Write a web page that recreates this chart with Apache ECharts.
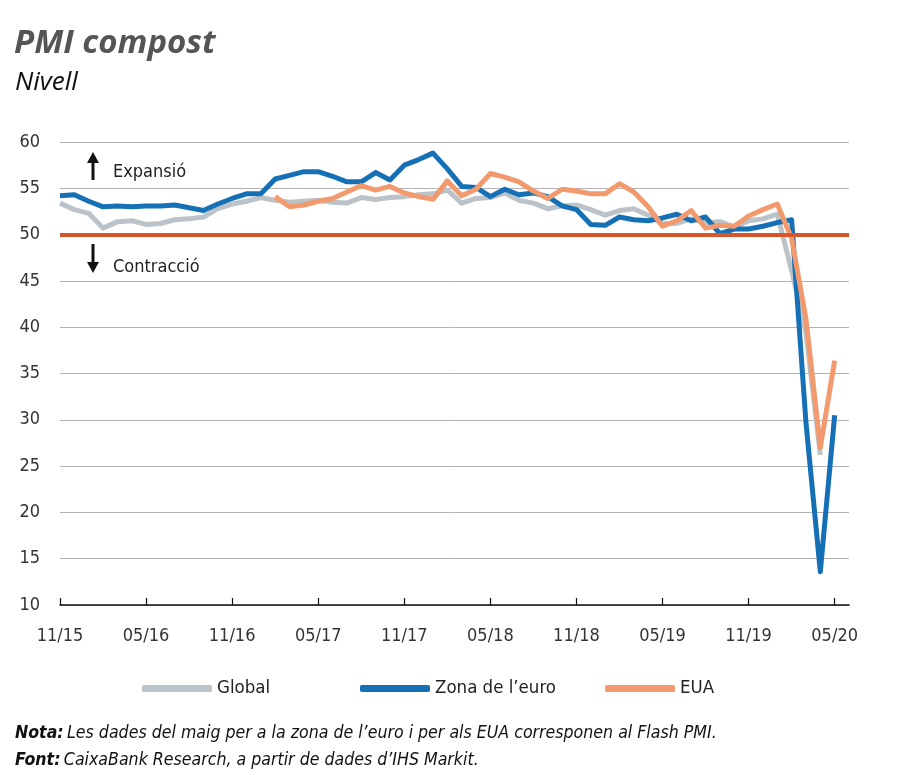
<!DOCTYPE html>
<html>
<head>
<meta charset="utf-8">
<script src="https://cdn.jsdelivr.net/npm/echarts@6/dist/echarts.min.js"></script>
<style>
html,body{margin:0;padding:0;background:#fff;}
#chart{width:900px;height:775px;}
</style>
</head>
<body>
<div id="chart"></div>
<script>
// Months Nov 2015 .. May 2020
const months = (function(){
  const out = [];
  let y = 15, m = 11;
  for (let i = 0; i < 55; i++) {
    out.push((m < 10 ? '0' + m : '' + m) + '/' + y);
    m++; if (m > 12) { m = 1; y++; }
  }
  return out;
})();
const tickLabels = ['11/15','05/16','11/16','05/17','11/17','05/18','11/18','05/19','11/19','05/20'];

const globalPMI = [53.4,52.7,52.3,50.7,51.4,51.5,51.1,51.2,51.6,51.7,
  51.9,52.8,53.3,53.6,54.0,53.7,53.5,53.6,53.7,53.5,
  53.4,54.0,53.8,54.0,54.1,54.3,54.4,54.8,53.4,53.9,
  54.0,54.5,53.7,53.4,52.8,53.1,53.2,52.7,52.1,52.6,
  52.8,52.1,51.2,51.2,51.7,51.3,51.4,50.8,51.5,51.7,
  52.2,46.1,39.4,26.2,null];
const euroPMI = [54.2,54.3,53.6,53.0,53.1,53.0,53.1,53.1,53.2,52.9,
  52.6,53.3,53.9,54.4,54.4,56.0,56.4,56.8,56.8,56.3,
  55.7,55.7,56.7,55.9,57.5,58.1,58.8,57.1,55.2,55.1,
  54.1,54.9,54.3,54.5,54.1,53.1,52.7,51.1,51.0,51.9,
  51.6,51.5,51.8,52.2,51.5,51.9,50.1,50.6,50.6,50.9,
  51.3,51.6,29.7,13.6,30.5];
const usaPMI = [null,null,null,null,null,null,null,null,null,null,
  null,null,null,null,null,54.1,53.0,53.2,53.6,53.9,
  54.6,55.3,54.8,55.2,54.5,54.1,53.8,55.8,54.2,54.9,
  56.6,56.2,55.7,54.7,53.9,54.9,54.7,54.4,54.4,55.5,
  54.6,53.0,50.9,51.5,52.6,50.7,51.0,50.9,52.0,52.7,
  53.3,49.6,40.9,27.0,36.4];
const threshold = 50;
const seriesNames = ['Global', 'Zona de l’euro', 'EUA'];

const FONT = '"Liberation Sans Narrow","DejaVu Sans Condensed","Noto Sans",sans-serif';
const C_GRAY = '#bcc3c8', C_BLUE = '#1570b6', C_ORANGE = '#f29a6e', C_RED = '#d8542b';

const chart = echarts.init(document.getElementById('chart'), null, {renderer:'canvas'});
const cats = months.concat(['']);

function legendFor(name, left) {
  return {
    data: [name], left: left, top: 674, icon: 'roundRect',
    itemWidth: 70, itemHeight: 7, itemGap: 14,
    textStyle: {fontFamily: FONT, fontSize: 18.5, color: '#222'},
    selectedMode: false
  };
}

const richNote = {
  b: {fontFamily: FONT, fontSize: 17.6, fontWeight: 'bold', fontStyle: 'italic', fill: '#111'},
  n: {fontFamily: FONT, fontSize: 17.6, fontStyle: 'italic', fill: '#111'}
};

chart.setOption({
  animation: false,
  backgroundColor: '#fff',
  grid: {left: 60, right: 51, top: 142, bottom: 170, containLabel: false},
  legend: [legendFor(seriesNames[0], 137), legendFor(seriesNames[1], 355), legendFor(seriesNames[2], 600)],
  xAxis: {
    type: 'category', data: cats, boundaryGap: false,
    axisLine: {lineStyle: {color: '#111', width: 1.5}},
    axisTick: {show: true, inside: true, length: 7, interval: 5, lineStyle: {color: '#111', width: 1.2}},
    axisLabel: {interval: 5, margin: 22, fontFamily: FONT, fontSize: 18, color: '#333',
      formatter: function(v){ return tickLabels.indexOf(v) >= 0 ? v : ''; }},
    splitLine: {show: false}
  },
  yAxis: {
    type: 'value', min: 10, max: 60, interval: 5,
    axisLine: {show: false}, axisTick: {show: false},
    axisLabel: {fontFamily: FONT, fontSize: 18, color: '#333', margin: 20},
    splitLine: {lineStyle: {color: '#b3b3b3', width: 1}}
  },
  series: [
    {name: seriesNames[0], type: 'line', data: globalPMI, symbol: 'none', z: 2,
      lineStyle: {color: C_GRAY, width: 5, join: 'round'}, itemStyle: {color: C_GRAY},
      markLine: {silent: true, symbol: 'none', label: {show: false},
        lineStyle: {color: C_RED, width: 4, type: 'solid'}, data: [{yAxis: threshold}]}},
    {name: seriesNames[1], type: 'line', data: euroPMI, symbol: 'none', z: 3,
      lineStyle: {color: C_BLUE, width: 5, join: 'round'}, itemStyle: {color: C_BLUE}},
    {name: seriesNames[2], type: 'line', data: usaPMI, symbol: 'none', z: 4,
      lineStyle: {color: C_ORANGE, width: 5, join: 'round'}, itemStyle: {color: C_ORANGE}}
  ],
  graphic: [
    {type: 'text', left: 14, top: 27, style: {text: 'PMI compost', fontFamily: '"Open Sans","Noto Sans",sans-serif', fontSize: 33, fontWeight: 'bold', fontStyle: 'italic', fill: '#555'}},
    {type: 'text', left: 15, top: 70, style: {text: 'Nivell', fontFamily: '"Open Sans","Noto Sans",sans-serif', fontSize: 26, fontStyle: 'italic', fill: '#111'}},
    // up arrow
    {type: 'rect', shape: {x: 91.5, y: 160, width: 3, height: 20}, style: {fill: '#111'}},
    {type: 'polygon', shape: {points: [[93, 152], [87, 163], [99, 163]]}, style: {fill: '#111'}},
    {type: 'text', left: 113, top: 163, style: {text: 'Expansió', fontFamily: FONT, fontSize: 18, fill: '#222'}},
    // down arrow
    {type: 'rect', shape: {x: 91.5, y: 244, width: 3, height: 20}, style: {fill: '#111'}},
    {type: 'polygon', shape: {points: [[93, 273], [87, 262], [99, 262]]}, style: {fill: '#111'}},
    {type: 'text', left: 113, top: 258, style: {text: 'Contracció', fontFamily: FONT, fontSize: 18, fill: '#222'}},
    // notes
    {type: 'text', left: 15, top: 724, style: {rich: richNote,
      text: '{b|Nota:} {n|Les dades del maig per a la zona de l’euro i per als EUA corresponen al Flash PMI.}'}},
    {type: 'text', left: 15, top: 751, style: {rich: richNote,
      text: '{b|Font:} {n|CaixaBank Research, a partir de dades d’IHS Markit.}'}}
  ]
});
</script>
</body>
</html>
